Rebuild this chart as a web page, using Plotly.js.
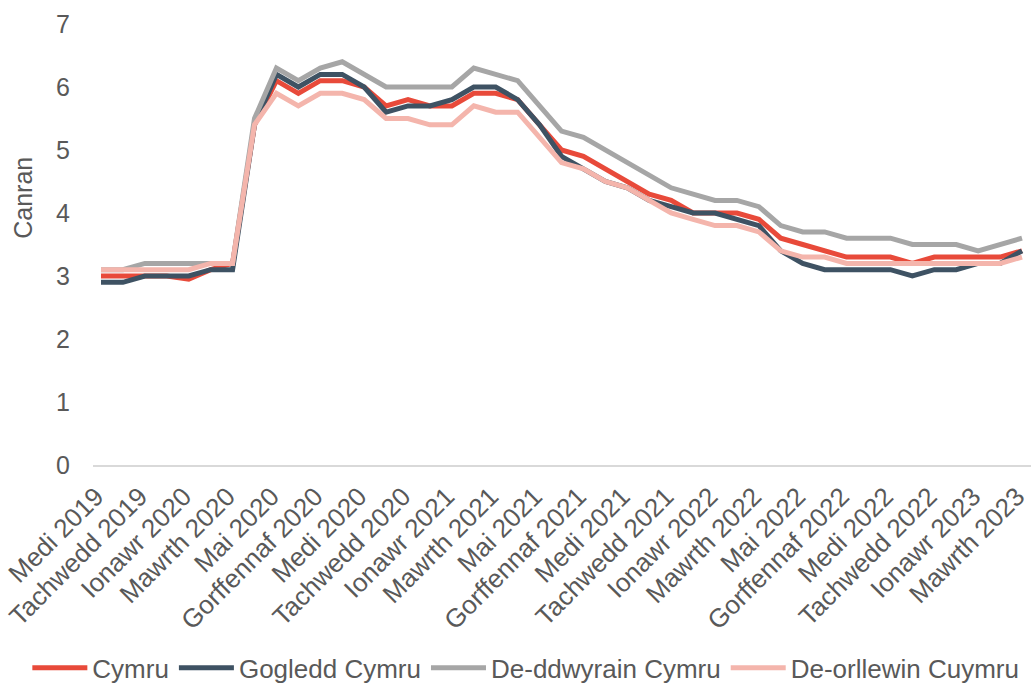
<!DOCTYPE html>
<html>
<head>
<meta charset="utf-8">
<script src="https://cdn.plot.ly/plotly-3.0.1.min.js"></script>
<style>html,body{margin:0;padding:0;background:#fff;}#chart{width:1032px;height:686px;}</style>
</head>
<body>
<div id="chart"></div>
<script>
const categories = [
  "Medi 2019","Hydref 2019","Tachwedd 2019","Rhagfyr 2019",
  "Ionawr 2020","Chwefror 2020","Mawrth 2020","Ebrill 2020","Mai 2020","Mehefin 2020",
  "Gorffennaf 2020","Awst 2020","Medi 2020","Hydref 2020","Tachwedd 2020","Rhagfyr 2020",
  "Ionawr 2021","Chwefror 2021","Mawrth 2021","Ebrill 2021","Mai 2021","Mehefin 2021",
  "Gorffennaf 2021","Awst 2021","Medi 2021","Hydref 2021","Tachwedd 2021","Rhagfyr 2021",
  "Ionawr 2022","Chwefror 2022","Mawrth 2022","Ebrill 2022","Mai 2022","Mehefin 2022",
  "Gorffennaf 2022","Awst 2022","Medi 2022","Hydref 2022","Tachwedd 2022","Rhagfyr 2022",
  "Ionawr 2023","Chwefror 2023","Mawrth 2023"
];
const tickLabels = [
  "Medi 2019","Tachwedd 2019","Ionawr 2020","Mawrth 2020","Mai 2020","Gorffennaf 2020",
  "Medi 2020","Tachwedd 2020","Ionawr 2021","Mawrth 2021","Mai 2021","Gorffennaf 2021",
  "Medi 2021","Tachwedd 2021","Ionawr 2022","Mawrth 2022","Mai 2022","Gorffennaf 2022",
  "Medi 2022","Tachwedd 2022","Ionawr 2023","Mawrth 2023"
];
const cymru = [3.0,3.0,3.0,3.0,2.95,3.1,3.2,5.4,6.1,5.9,6.1,6.1,6.0,5.7,5.8,5.7,5.7,5.9,5.9,5.8,5.4,5.0,4.9,4.7,4.5,4.3,4.2,4.0,4.0,4.0,3.9,3.6,3.5,3.4,3.3,3.3,3.3,3.2,3.3,3.3,3.3,3.3,3.4];
const gogledd = [2.9,2.9,3.0,3.0,3.0,3.1,3.1,5.4,6.2,6.0,6.2,6.2,6.0,5.6,5.7,5.7,5.8,6.0,6.0,5.8,5.4,4.9,4.7,4.5,4.4,4.2,4.1,4.0,4.0,3.9,3.8,3.4,3.2,3.1,3.1,3.1,3.1,3.0,3.1,3.1,3.2,3.2,3.4];
const deDdwyrain = [3.1,3.1,3.2,3.2,3.2,3.2,3.2,5.5,6.3,6.1,6.3,6.4,6.2,6.0,6.0,6.0,6.0,6.3,6.2,6.1,5.7,5.3,5.2,5.0,4.8,4.6,4.4,4.3,4.2,4.2,4.1,3.8,3.7,3.7,3.6,3.6,3.6,3.5,3.5,3.5,3.4,3.5,3.6];
const deOrllewin = [3.1,3.1,3.1,3.1,3.1,3.2,3.2,5.4,5.9,5.7,5.9,5.9,5.8,5.5,5.5,5.4,5.4,5.7,5.6,5.6,5.2,4.8,4.7,4.5,4.4,4.2,4.0,3.9,3.8,3.8,3.7,3.4,3.3,3.3,3.2,3.2,3.2,3.2,3.2,3.2,3.2,3.2,3.3];
const seriesNames = ["Cymru","Gogledd Cymru","De-ddwyrain Cymru","De-orllewin Cuymru"];
const seriesColors = ["#E84A3A","#3E5263","#A6A6A6","#F4B5AC"];
const seriesValues = [cymru, gogledd, deDdwyrain, deOrllewin];
const yTicks = [0,1,2,3,4,5,6,7];

const traces = seriesValues.map((vals, k) => ({
  type: "scatter",
  mode: "lines",
  x: categories,
  y: vals,
  name: seriesNames[k],
  line: {color: seriesColors[k], width: 5, shape: "linear"},
  hoverinfo: "skip"
}));

const fam = "Liberation Sans, Arial, sans-serif";
const grey = "#595959";

const layout = {
  width: 1032,
  height: 686,
  margin: {l: 93, r: 1, t: 24, b: 221, autoexpand: false},
  paper_bgcolor: "#ffffff",
  plot_bgcolor: "#ffffff",
  font: {family: fam, size: 25, color: grey},
  showlegend: true,
  legend: {
    orientation: "h",
    x: -0.07,
    xanchor: "left",
    y: -0.46,
    yanchor: "middle",
    font: {family: fam, size: 26, color: grey},
    itemwidth: 55,
    tracegroupgap: 0,
    traceorder: "normal"
  },
  xaxis: {
    type: "category",
    categoryorder: "array",
    categoryarray: categories,
    range: [-0.365, 42.41],
    tickmode: "array",
    tickvals: tickLabels,
    ticktext: tickLabels,
    tickangle: -45,
    tickfont: {family: fam, size: 26, color: grey},
    ticklabelstandoff: 4,
    ticklabelshift: -5,
    automargin: false,
    showgrid: false,
    zeroline: false,
    showline: true,
    linecolor: "#D9D9D9",
    linewidth: 2,
    ticks: "",
    fixedrange: true
  },
  yaxis: {
    range: [0, 7],
    tickmode: "array",
    tickvals: yTicks,
    ticktext: yTicks.map(String),
    tickfont: {family: fam, size: 25, color: grey},
    automargin: false,
    showgrid: false,
    zeroline: false,
    showline: false,
    ticks: "",
    ticklabelstandoff: 22,
    fixedrange: true
  },
  annotations: [{
    text: "Canran",
    xref: "paper", yref: "paper",
    x: -0.074, y: 0.605,
    xanchor: "center", yanchor: "middle",
    textangle: -90,
    showarrow: false,
    font: {family: fam, size: 25, color: grey}
  }]
};

Plotly.newPlot("chart", traces, layout, {displayModeBar: false, staticPlot: true});
</script>
</body>
</html>
